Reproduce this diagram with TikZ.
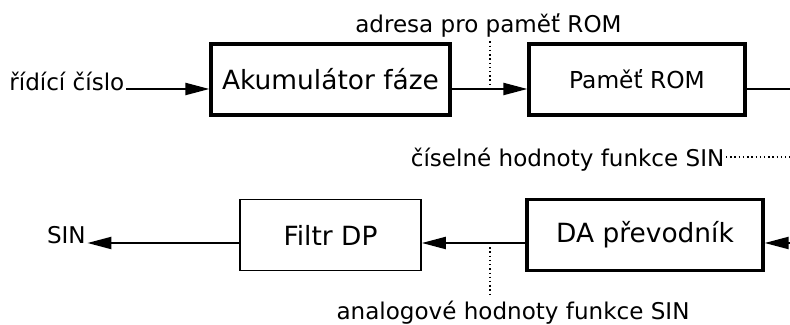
\documentclass[tikz,border=0pt]{standalone}
\usepackage{fontspec}
\setmainfont{DejaVu Sans}
\usetikzlibrary{arrows.meta}

\begin{document}
\begin{tikzpicture}[
  block/.style={draw, line width=2.3pt, minimum height=1.775cm, inner sep=0pt, font=\fontsize{18.8}{22}\selectfont},
  thinblock/.style={block, line width=1.2pt},
  lbl/.style={inner sep=1pt, font=\fontsize{16.4}{19}\selectfont},
  sig/.style={line width=1.5pt, -{Triangle[length=17pt,width=8.5pt]}},
  wire/.style={line width=1.5pt},
  tap/.style={line width=1pt, dotted},
]
\useasboundingbox (0,0) rectangle (19.75,-8.125);

% bloky
\node (akum) [block, minimum width=5.975cm] at (8.2625,-1.9875) {Akumulátor fáze};
\node (rom) [block, minimum width=5.4cm, font=\fontsize{16.6}{20}\selectfont] at (15.925,-1.9875) {Paměť ROM};
\node (da) [block, minimum width=5.9cm] at (16.125,-5.875) {DA převodník};
\node (filtr) [thinblock, minimum width=4.525cm] at (8.2625,-5.875) {Filtr DP};

% popisky
\node (ctrl) [lbl, anchor=base east] at (3.15,-2.2625) {řídící číslo};
\node (adr) [lbl, anchor=base] at (12.21,-0.825) {adresa pro paměť ROM};
\node (val) [lbl, anchor=base east] at (18.15,-4.175) {číselné hodnoty funkce SIN};
\node (ana) [lbl, anchor=base] at (12.825,-8.0) {analogové hodnoty funkce SIN};
\node (sin) [lbl, anchor=base east] at (2.185,-6.1) {SIN};

\coordinate (adrtap) at (12.25,-2.225);
\coordinate (anatap) at (12.25,-6.075);
\coordinate (romout) at (19.75,-2.225);
\coordinate (valout) at (19.75,-3.925);
\coordinate (dain) at (19.75,-6.075);

% horni vetev
\draw[sig]
  ([yshift=-0.2375cm]akum.west -| ctrl.east) -- ([yshift=-0.2375cm]akum.west);
\draw[sig]
  ([yshift=-0.2375cm]akum.east) -- ([yshift=-0.2375cm]rom.west);
\draw[wire] ([yshift=-0.2375cm]rom.east) -- (romout);
\draw[tap] ([yshift=-0.05cm]adr.south -| adrtap) -- (adrtap);
\draw[tap] (valout -| val.east) -- (valout);

% dolni vetev
\draw[sig] (dain) -- ([yshift=-0.2cm]da.east);
\draw[sig]
  ([yshift=-0.2cm]da.west) -- ([yshift=-0.2cm]filtr.east);
\draw[sig]
  ([yshift=-0.2cm]filtr.west) -- (anatap -| sin.base east);
\draw[tap] (anatap) -- ([yshift=0.075cm]ana.north -| anatap);
\end{tikzpicture}
\end{document}
